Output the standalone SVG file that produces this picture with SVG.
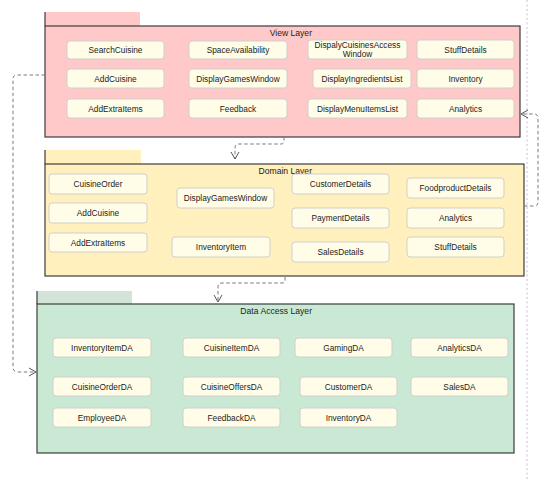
<svg xmlns="http://www.w3.org/2000/svg" width="558" height="481" viewBox="0 0 558 481">
  <style>
    .tab { stroke: none; }
    .body { stroke: #3c3c3c; stroke-width: 1.2; }
    .edge { stroke: #3c3c3c; stroke-width: 1.2; fill: none; }
    .node rect { fill: #fffde8; stroke: #cfcfcf; stroke-width: 1; }
    text { font-family: "Liberation Sans", Arial, sans-serif; font-size: 8.3px; fill: #222; text-anchor: middle; }
    .title { text-anchor: end; font-size: 8.6px; }
    .conn { fill: none; stroke: #7a7a7a; stroke-width: 1; stroke-dasharray: 3.5 2.5; }
    .guide { fill: none; stroke: #cfc8dc; stroke-width: 1.2; stroke-dasharray: 2 2.5; }
  </style>
  <defs>
    <marker id="open" markerWidth="10" markerHeight="10" refX="8" refY="5" orient="auto" markerUnits="userSpaceOnUse">
      <polyline points="1,1 8,5 1,9" fill="none" stroke="#555" stroke-width="1"/>
    </marker>
  </defs>

  <rect width="558" height="481" fill="#ffffff"/>
  <line class="guide" x1="527" y1="0" x2="527" y2="481"/>

  <!-- View Layer package -->
  <g id="view-layer">
    <rect class="tab" x="45" y="12" width="95" height="14" fill="#ffc9c9"/>
    <rect class="body" x="45" y="26" width="475" height="111" fill="#ffc9c9"/>
    <line class="edge" x1="45" y1="12" x2="45" y2="26"/>
    <text class="title" x="312" y="36">View Layer</text>
  </g>
  <g id="v-searchcuisine" class="node"><rect x="67" y="41" width="97" height="18" rx="3"/><text x="115.5" y="53">SearchCuisine</text></g>
  <g id="v-spaceavailability" class="node"><rect x="189" y="41" width="98" height="18" rx="3"/><text x="238" y="53">SpaceAvailability</text></g>
  <g id="v-cuisinesaccess" class="node"><rect x="308" y="40" width="99" height="19" rx="3"/><text x="357.5" y="48">DispalyCuisinesAccess</text><text x="357.5" y="57">Window</text></g>
  <g id="v-stuffdetails" class="node"><rect x="417" y="40" width="97" height="19" rx="3"/><text x="465.5" y="52.5">StuffDetails</text></g>
  <g id="v-addcuisine" class="node"><rect x="67" y="69" width="97" height="19" rx="3"/><text x="115.5" y="81.5">AddCuisine</text></g>
  <g id="v-displaygameswindow" class="node"><rect x="189" y="69" width="98" height="19" rx="3"/><text x="238" y="81.5">DisplayGamesWindow</text></g>
  <g id="v-ingredientslist" class="node"><rect x="313" y="69" width="98" height="19" rx="3"/><text x="362" y="81.5">DisplayIngredientsList</text></g>
  <g id="v-inventory" class="node"><rect x="417" y="69" width="97" height="19" rx="3"/><text x="465.5" y="81.5">Inventory</text></g>
  <g id="v-addextraitems" class="node"><rect x="67" y="99" width="97" height="19" rx="3"/><text x="115.5" y="111.5">AddExtraItems</text></g>
  <g id="v-feedback" class="node"><rect x="189" y="99" width="98" height="19" rx="3"/><text x="238" y="111.5">Feedback</text></g>
  <g id="v-menuitemslist" class="node"><rect x="308" y="99" width="99" height="19" rx="3"/><text x="357.5" y="111.5">DisplayMenuItemsList</text></g>
  <g id="v-analytics" class="node"><rect x="417" y="99" width="97" height="19" rx="3"/><text x="465.5" y="111.5">Analytics</text></g>

  <!-- Domain Layer package -->
  <g id="domain-layer">
    <rect class="tab" x="45" y="150" width="96" height="14" fill="#fff0bd"/>
    <rect class="body" x="45" y="164" width="479" height="112" fill="#fff0bd"/>
    <line class="edge" x1="45" y1="150" x2="45" y2="164"/>
    <text class="title" x="312" y="174">Domain Layer</text>
  </g>
  <g id="d-cuisineorder" class="node"><rect x="49" y="174" width="98" height="20" rx="3"/><text x="98" y="187">CuisineOrder</text></g>
  <g id="d-addcuisine" class="node"><rect x="49" y="203" width="98" height="20" rx="3"/><text x="98" y="216">AddCuisine</text></g>
  <g id="d-addextraitems" class="node"><rect x="49" y="233" width="98" height="19" rx="3"/><text x="98" y="245.5">AddExtraItems</text></g>
  <g id="d-displaygameswindow" class="node"><rect x="177" y="188" width="97" height="20" rx="3"/><text x="225.5" y="201">DisplayGamesWindow</text></g>
  <g id="d-inventoryitem" class="node"><rect x="172" y="237" width="98" height="20" rx="3"/><text x="221" y="250">InventoryItem</text></g>
  <g id="d-customerdetails" class="node"><rect x="292" y="174" width="97" height="20" rx="3"/><text x="340.5" y="187">CustomerDetails</text></g>
  <g id="d-paymentdetails" class="node"><rect x="292" y="208" width="97" height="20" rx="3"/><text x="340.5" y="221">PaymentDetails</text></g>
  <g id="d-salesdetails" class="node"><rect x="292" y="242" width="97" height="20" rx="3"/><text x="340.5" y="255">SalesDetails</text></g>
  <g id="d-foodproductdetails" class="node"><rect x="407" y="178" width="97" height="20" rx="3"/><text x="455.5" y="191">FoodproductDetails</text></g>
  <g id="d-analytics" class="node"><rect x="407" y="208" width="97" height="20" rx="3"/><text x="455.5" y="221">Analytics</text></g>
  <g id="d-stuffdetails" class="node"><rect x="407" y="237" width="97" height="20" rx="3"/><text x="455.5" y="250">StuffDetails</text></g>

  <!-- Data Access Layer package -->
  <g id="data-access-layer">
    <rect class="tab" x="37" y="291" width="95" height="13" fill="#d3e3d8"/>
    <rect class="body" x="37" y="304" width="477" height="149" fill="#c9e9d4"/>
    <line class="edge" x1="37" y1="291" x2="37" y2="304"/>
    <text class="title" x="312" y="314">Data Access Layer</text>
  </g>
  <g id="a-inventoryitemda" class="node"><rect x="53" y="338" width="98" height="19" rx="3"/><text x="102" y="350.5">InventoryItemDA</text></g>
  <g id="a-cuisineitemda" class="node"><rect x="183" y="338" width="97" height="19" rx="3"/><text x="231.5" y="350.5">CuisineItemDA</text></g>
  <g id="a-gamingda" class="node"><rect x="295" y="338" width="97" height="19" rx="3"/><text x="343.5" y="350.5">GamingDA</text></g>
  <g id="a-analyticsda" class="node"><rect x="411" y="338" width="97" height="19" rx="3"/><text x="459.5" y="350.5">AnalyticsDA</text></g>
  <g id="a-cuisineorderda" class="node"><rect x="53" y="377" width="98" height="19" rx="3"/><text x="102" y="389.5">CuisineOrderDA</text></g>
  <g id="a-cuisineoffersda" class="node"><rect x="183" y="377" width="97" height="19" rx="3"/><text x="231.5" y="389.5">CuisineOffersDA</text></g>
  <g id="a-customerda" class="node"><rect x="300" y="377" width="97" height="19" rx="3"/><text x="348.5" y="389.5">CustomerDA</text></g>
  <g id="a-salesda" class="node"><rect x="411" y="377" width="97" height="19" rx="3"/><text x="459.5" y="389.5">SalesDA</text></g>
  <g id="a-employeeda" class="node"><rect x="53" y="408" width="98" height="19" rx="3"/><text x="102" y="420.5">EmployeeDA</text></g>
  <g id="a-feedbackda" class="node"><rect x="183" y="408" width="97" height="19" rx="3"/><text x="231.5" y="420.5">FeedbackDA</text></g>
  <g id="a-inventoryda" class="node"><rect x="300" y="408" width="97" height="19" rx="3"/><text x="348.5" y="420.5">InventoryDA</text></g>

  <!-- dependencies between the layers -->
  <g id="connectors">
    <path class="conn" d="M45,75 L17,75 Q13,75 13,79 L13,367 Q13,372 18,372 L36,372" marker-end="url(#open)"/>
    <path class="conn" d="M524,206 L534,206 Q538,206 538,202 L538,118 Q538,114 534,114 L521,114" marker-end="url(#open)"/>
    <path class="conn" d="M284,137 L284,141 Q284,144 281,144 L239,144 Q235,144 235,148 L235,159" marker-end="url(#open)"/>
    <path class="conn" d="M285,277 L285,280 Q285,283 282,283 L222,283 Q218,283 218,287 L218,302" marker-end="url(#open)"/>
  </g>
</svg>
